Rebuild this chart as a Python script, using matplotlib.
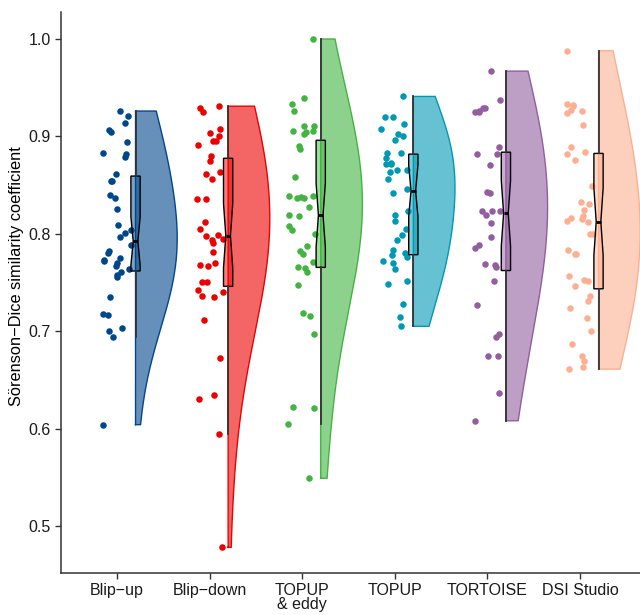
import numpy as np
import matplotlib
matplotlib.use("Agg")
import matplotlib.pyplot as plt

plt.rcParams['font.family'] = ['Liberation Sans', 'DejaVu Sans']

methods = ["Blip\u2212up", "Blip\u2212down", "TOPUP\n& eddy", "TOPUP", "TORTOISE", "DSI Studio"]
colors = ["#00468B", "#ED0000", "#42B540", "#0099B4", "#925E9F", "#FDAF91"]

# Sorenson-Dice values
blip_up = [0.926, 0.921, 0.914, 0.907, 0.904, 0.894, 0.883, 0.882, 0.879, 0.861,
           0.854, 0.854, 0.840, 0.837, 0.825, 0.809, 0.804, 0.801, 0.797, 0.788,
           0.782, 0.780, 0.775, 0.773, 0.772, 0.770, 0.767, 0.764, 0.761, 0.758,
           0.756, 0.735, 0.718, 0.717, 0.703, 0.700, 0.694, 0.604]
blip_down = [0.931, 0.929, 0.925, 0.908, 0.903, 0.900, 0.895, 0.895, 0.891, 0.880,
             0.875, 0.863, 0.861, 0.856, 0.836, 0.836, 0.812, 0.805, 0.799, 0.798,
             0.795, 0.794, 0.791, 0.781, 0.770, 0.768, 0.767, 0.750, 0.750, 0.742,
             0.740, 0.736, 0.735, 0.711, 0.672, 0.634, 0.630, 0.594, 0.478]
topup_eddy = [1.000, 0.939, 0.933, 0.926, 0.911, 0.911, 0.905, 0.905, 0.904, 0.902,
              0.890, 0.887, 0.858, 0.839, 0.839, 0.838, 0.837, 0.837, 0.827, 0.819,
              0.818, 0.808, 0.804, 0.800, 0.787, 0.782, 0.779, 0.771, 0.766, 0.765,
              0.761, 0.747, 0.719, 0.716, 0.697, 0.622, 0.621, 0.605, 0.549]
topup = [0.941, 0.920, 0.920, 0.913, 0.908, 0.902, 0.900, 0.896, 0.883, 0.883,
         0.878, 0.873, 0.872, 0.872, 0.865, 0.865, 0.863, 0.856, 0.846, 0.842,
         0.823, 0.819, 0.813, 0.805, 0.799, 0.794, 0.783, 0.780, 0.778, 0.776,
         0.772, 0.770, 0.764, 0.752, 0.748, 0.728, 0.715, 0.705]
tortoise = [0.967, 0.937, 0.929, 0.929, 0.926, 0.925, 0.925, 0.889, 0.882, 0.882,
            0.871, 0.843, 0.842, 0.823, 0.823, 0.823, 0.819, 0.811, 0.797, 0.788,
            0.785, 0.769, 0.768, 0.766, 0.751, 0.727, 0.697, 0.694, 0.675, 0.675,
            0.637, 0.608]
dsi_studio = [0.988, 0.933, 0.932, 0.931, 0.927, 0.926, 0.924, 0.912, 0.889, 0.884,
              0.882, 0.876, 0.849, 0.833, 0.831, 0.824, 0.818, 0.816, 0.815, 0.813,
              0.812, 0.800, 0.800, 0.783, 0.779, 0.779, 0.757, 0.753, 0.752, 0.746,
              0.736, 0.731, 0.724, 0.713, 0.700, 0.687, 0.675, 0.669, 0.663, 0.661]

groups = [blip_up, blip_down, topup_eddy, topup, tortoise, dsi_studio]


def kde_trimmed(vals, adjust=2.0, n=512):
    # gaussian kde, R's bw.nrd0 times adjust, evaluated over the data range only
    v = np.asarray(vals)
    iqr = np.subtract(*np.percentile(v, [75, 25]))
    bw = adjust * 0.9 * min(v.std(ddof=1), iqr / 1.34) * len(v) ** -0.2
    ys = np.linspace(v.min(), v.max(), n)
    dens = np.exp(-0.5 * ((ys[:, None] - v[None, :]) / bw) ** 2).sum(axis=1)
    return ys, dens / dens.max()


fig = plt.figure(figsize=(6.4, 6.15), dpi=100)
ax = fig.add_axes([0.0953, 0.0683, 0.9047, 0.9122])

rng = np.random.default_rng(7)
shift = 0.2
vwidth = 0.45

for i, (vals, col) in enumerate(zip(groups, colors)):
    pos = i + 1
    ys, d = kde_trimmed(vals)
    ax.fill_betweenx(ys, pos + shift, pos + shift + d * vwidth, facecolor=col,
                     alpha=0.6, edgecolor="none", zorder=1)
    ax.plot(np.r_[pos + shift, pos + shift + d * vwidth, pos + shift, pos + shift],
            np.r_[ys[0], ys, ys[-1], ys[0]], color=col, lw=1.0, zorder=2)
    jit = rng.uniform(-0.15, 0.15, len(vals))
    ax.scatter(pos + jit, vals, s=22, color=col, linewidths=0, zorder=3)
    bp = ax.boxplot([vals], positions=[pos + shift], widths=0.1, notch=True,
                    patch_artist=True, showcaps=False, showfliers=False,
                    manage_ticks=False, zorder=4)
    for b in bp["boxes"]:
        b.set_facecolor(matplotlib.colors.to_rgba(col, 0.5))
        b.set_edgecolor("black")
        b.set_linewidth(1.0)
    for w in bp["whiskers"]:
        w.set_color("#333333")
        w.set_linewidth(1.3)
    for m in bp["medians"]:
        m.set_color("black")
        m.set_linewidth(2.0)

ax.set_xlim(0.395, 6.648)
ax.set_ylim(0.4517, 1.0277)
ax.set_xticks(range(1, len(methods) + 1))
ax.set_xticklabels(methods, linespacing=0.9)
ax.set_yticks([0.5, 0.6, 0.7, 0.8, 0.9, 1.0])
ax.set_yticklabels(["0.5", "0.6", "0.7", "0.8", "0.9", "1.0"])
ax.set_ylabel("S\u00f6renson\u2212Dice similarity coefficient", fontsize=11.8,
              color="black")
ax.yaxis.set_label_coords(-0.064, 0.529)

for s in ["top", "right"]:
    ax.spines[s].set_visible(False)
for s in ["left", "bottom"]:
    ax.spines[s].set_color("#333333")
    ax.spines[s].set_linewidth(1.1)
ax.tick_params(axis="both", colors="#333333", labelcolor="#1a1a1a",
               labelsize=11.5, length=4, width=1.0)

fig.savefig("out.png", dpi=100)
